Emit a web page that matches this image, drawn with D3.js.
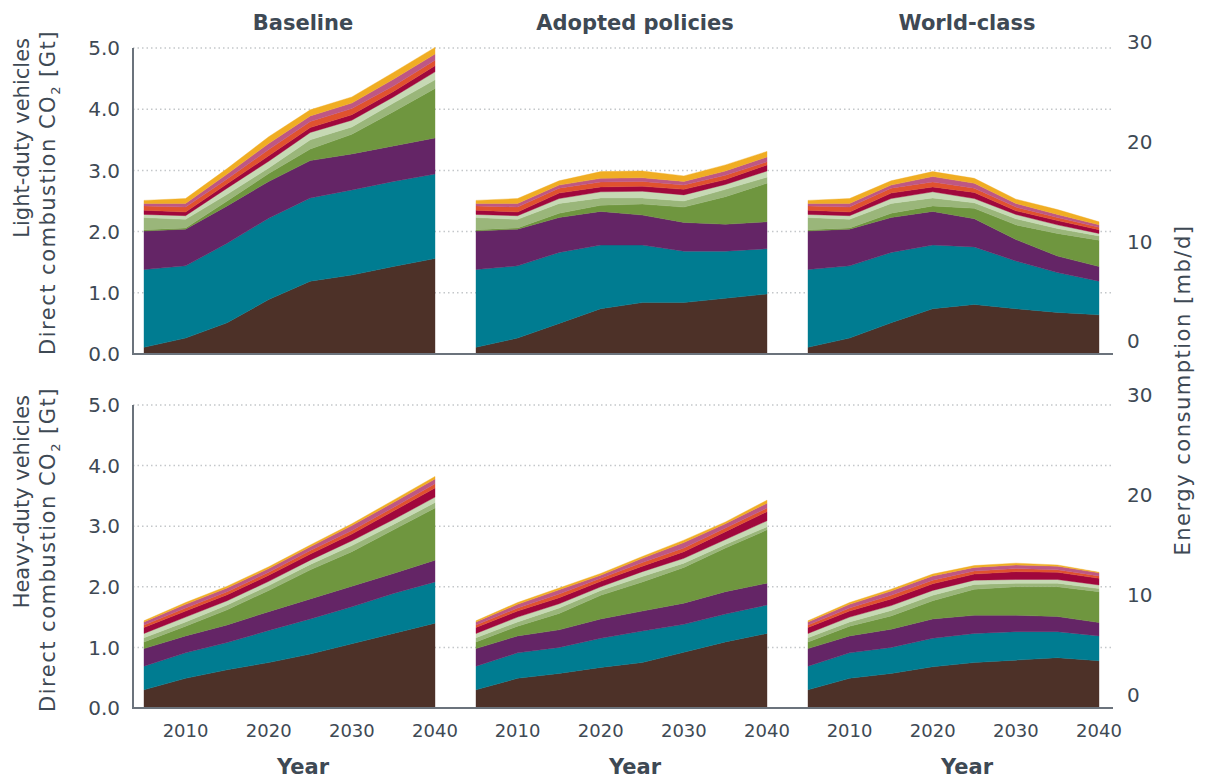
<!DOCTYPE html>
<html>
<head>
<meta charset="utf-8">
<script src="https://cdn.jsdelivr.net/npm/d3@7"></script>
<style>
  body { margin: 0; background: #fff; }
  svg { display: block; font-family: "DejaVu Sans", sans-serif; }
</style>
</head>
<body>
<div id="chart"></div>
<script>
// years and panel names
const years = [2005, 2010, 2015, 2020, 2025, 2030, 2035, 2040];
const scenarios = ["Baseline", "Adopted policies", "World-class"];
const rows = ["Light-duty vehicles", "Heavy-duty vehicles"];
const xTicks = [2010, 2020, 2030, 2040];
const leftTicks = [0, 1, 2, 3, 4, 5];
const rightTicks = [0, 10, 20, 30];
const layerKeys = ["l1", "l2", "l3", "l4", "l5", "l6", "l7", "l8", "l9", "l10"];

// stacked layers, bottom to top, Gt CO2
const ldvBaseline = [
  [0.11, 0.26, 0.51, 0.89, 1.19, 1.29, 1.43, 1.56],
  [1.27, 1.18, 1.30, 1.33, 1.36, 1.39, 1.39, 1.38],
  [0.63, 0.60, 0.61, 0.60, 0.61, 0.59, 0.58, 0.59],
  [0.02, 0.02, 0.08, 0.13, 0.19, 0.32, 0.56, 0.81],
  [0.20, 0.14, 0.11, 0.09, 0.15, 0.12, 0.14, 0.14],
  [0.05, 0.06, 0.10, 0.11, 0.12, 0.11, 0.10, 0.13],
  [0.07, 0.06, 0.07, 0.09, 0.08, 0.09, 0.09, 0.10],
  [0.07, 0.08, 0.08, 0.10, 0.10, 0.10, 0.09, 0.09],
  [0.04, 0.06, 0.08, 0.10, 0.09, 0.09, 0.11, 0.10],
  [0.05, 0.08, 0.09, 0.11, 0.10, 0.10, 0.11, 0.11]
];
const ldvAdopted = [
  [0.11, 0.26, 0.50, 0.74, 0.84, 0.84, 0.91, 0.98],
  [1.27, 1.18, 1.16, 1.04, 0.94, 0.84, 0.77, 0.74],
  [0.63, 0.60, 0.57, 0.55, 0.49, 0.47, 0.44, 0.44],
  [0.02, 0.02, 0.07, 0.10, 0.18, 0.25, 0.45, 0.63],
  [0.20, 0.14, 0.16, 0.12, 0.10, 0.10, 0.12, 0.10],
  [0.05, 0.06, 0.08, 0.10, 0.11, 0.10, 0.08, 0.10],
  [0.07, 0.06, 0.09, 0.08, 0.08, 0.09, 0.08, 0.10],
  [0.07, 0.08, 0.08, 0.08, 0.08, 0.07, 0.07, 0.05],
  [0.04, 0.06, 0.05, 0.06, 0.06, 0.06, 0.07, 0.08],
  [0.05, 0.08, 0.07, 0.11, 0.11, 0.09, 0.10, 0.09]
];
const ldvWorld = [
  [0.11, 0.26, 0.51, 0.74, 0.81, 0.74, 0.68, 0.64],
  [1.27, 1.18, 1.15, 1.04, 0.94, 0.78, 0.65, 0.55],
  [0.63, 0.60, 0.57, 0.55, 0.46, 0.35, 0.27, 0.24],
  [0.02, 0.02, 0.07, 0.09, 0.17, 0.24, 0.37, 0.43],
  [0.20, 0.14, 0.16, 0.13, 0.09, 0.10, 0.08, 0.07],
  [0.05, 0.06, 0.08, 0.10, 0.07, 0.07, 0.06, 0.04],
  [0.07, 0.06, 0.09, 0.08, 0.10, 0.06, 0.07, 0.06],
  [0.07, 0.08, 0.08, 0.08, 0.07, 0.06, 0.05, 0.04],
  [0.04, 0.06, 0.05, 0.09, 0.08, 0.06, 0.05, 0.04],
  [0.05, 0.08, 0.07, 0.08, 0.08, 0.07, 0.08, 0.05]
];
const hdvBaseline = [
  [0.30, 0.49, 0.63, 0.75, 0.89, 1.06, 1.23, 1.40],
  [0.39, 0.42, 0.45, 0.53, 0.58, 0.61, 0.66, 0.68],
  [0.29, 0.28, 0.29, 0.31, 0.33, 0.34, 0.33, 0.36],
  [0.11, 0.16, 0.25, 0.35, 0.48, 0.57, 0.72, 0.86],
  [0.07, 0.07, 0.08, 0.08, 0.09, 0.10, 0.09, 0.09],
  [0.07, 0.08, 0.07, 0.07, 0.07, 0.08, 0.08, 0.09],
  [0.10, 0.10, 0.10, 0.10, 0.10, 0.11, 0.14, 0.15],
  [0.04, 0.05, 0.05, 0.05, 0.06, 0.06, 0.06, 0.07],
  [0.05, 0.06, 0.06, 0.06, 0.06, 0.08, 0.08, 0.08],
  [0.02, 0.03, 0.03, 0.03, 0.03, 0.03, 0.04, 0.04]
];
const hdvAdopted = [
  [0.30, 0.49, 0.57, 0.67, 0.75, 0.92, 1.09, 1.23],
  [0.39, 0.42, 0.43, 0.48, 0.52, 0.46, 0.46, 0.47],
  [0.29, 0.28, 0.29, 0.32, 0.33, 0.35, 0.37, 0.36],
  [0.11, 0.16, 0.27, 0.39, 0.48, 0.59, 0.72, 0.88],
  [0.07, 0.07, 0.09, 0.08, 0.09, 0.07, 0.06, 0.05],
  [0.07, 0.08, 0.07, 0.06, 0.08, 0.08, 0.08, 0.10],
  [0.10, 0.10, 0.10, 0.09, 0.09, 0.11, 0.13, 0.15],
  [0.04, 0.05, 0.06, 0.05, 0.06, 0.06, 0.06, 0.06],
  [0.05, 0.06, 0.07, 0.05, 0.07, 0.09, 0.07, 0.08],
  [0.02, 0.03, 0.03, 0.03, 0.03, 0.04, 0.03, 0.05]
];
const hdvWorld = [
  [0.30, 0.49, 0.57, 0.68, 0.75, 0.79, 0.83, 0.78],
  [0.39, 0.42, 0.43, 0.47, 0.48, 0.47, 0.43, 0.41],
  [0.29, 0.28, 0.30, 0.32, 0.30, 0.27, 0.25, 0.22],
  [0.11, 0.16, 0.22, 0.30, 0.43, 0.47, 0.49, 0.51],
  [0.07, 0.07, 0.09, 0.09, 0.08, 0.06, 0.06, 0.05],
  [0.07, 0.08, 0.08, 0.08, 0.07, 0.06, 0.06, 0.06],
  [0.10, 0.10, 0.11, 0.11, 0.10, 0.13, 0.12, 0.11],
  [0.04, 0.05, 0.06, 0.06, 0.05, 0.05, 0.04, 0.04],
  [0.05, 0.06, 0.07, 0.07, 0.06, 0.06, 0.06, 0.05],
  [0.02, 0.03, 0.03, 0.03, 0.03, 0.03, 0.02, 0.01]
];

const panelData = [
  [ldvBaseline, ldvAdopted, ldvWorld],
  [hdvBaseline, hdvAdopted, hdvWorld]
];

const colors = ["#4d3128", "#007c91", "#642566", "#6f963f", "#9ab67a",
                "#c6d9b4", "#a0073c", "#e0522e", "#be5784", "#f0ad23"];
const textColor = "#3e4954";
const axisColor = "#6b737c";

const width = 1206, height = 780;
const panelLeft0 = 144, panelStep = 332, panelWidth = 291;
const axisX = 133, axisEnd = 1113;
const rowRange = [[354, 48], [708, 405]];
const rightRange = [[341, 42], [695, 395]];

let svg = d3.select("#chart").append("svg")
  .attr("width", width)
  .attr("height", height);

let color = d3.scaleOrdinal().domain(layerKeys).range(colors);
let stack = d3.stack().keys(layerKeys);

rows.forEach(function (rowName, r) {
  let y = d3.scaleLinear().domain([0, 5]).range(rowRange[r]);
  let yR = d3.scaleLinear().domain([0, 30]).range(rightRange[r]);
  let g = svg.append("g");

  // dotted gridlines
  g.append("g").selectAll("line")
    .data(leftTicks.filter(t => t > 0))
    .enter().append("line")
    .attr("x1", axisX).attr("x2", axisEnd)
    .attr("y1", d => y(d)).attr("y2", d => y(d))
    .attr("stroke", "#c4c7ca")
    .attr("stroke-width", 1.5)
    .attr("stroke-dasharray", "1.5,3");

  // stacked areas per scenario
  scenarios.forEach(function (name, i) {
    let x0 = panelLeft0 + i * panelStep;
    let x = d3.scaleLinear().domain([2005, 2040]).range([x0, x0 + panelWidth]);
    let series = panelData[r][i];
    let table = years.map(function (yr, j) {
      let row = { year: yr };
      layerKeys.forEach((k, li) => { row[k] = series[li][j]; });
      return row;
    });
    let area = d3.area()
      .x(d => x(d.data.year))
      .y0(d => y(d[0]))
      .y1(d => y(d[1]));

    g.append("g").selectAll("path")
      .data(stack(table))
      .enter().append("path")
      .attr("d", area)
      .attr("fill", d => color(d.key))
      .attr("stroke", d => color(d.key))
      .attr("stroke-width", 0.4);

    if (r === 1) {
      // year labels
      g.append("g").selectAll("text")
        .data(xTicks)
        .enter().append("text")
        .attr("x", d => x(d))
        .attr("y", 737)
        .attr("text-anchor", "middle")
        .attr("fill", textColor)
        .style("font-size", "18px")
        .text(d => d);
      g.append("text")
        .attr("x", x0 + 159)
        .attr("y", 774)
        .attr("text-anchor", "middle")
        .attr("fill", textColor)
        .style("font-size", "21px")
        .style("font-weight", "bold")
        .text("Year");
    } else {
      g.append("text")
        .attr("x", x0 + 159)
        .attr("y", 30)
        .attr("text-anchor", "middle")
        .attr("fill", textColor)
        .style("font-size", "21px")
        .style("font-weight", "bold")
        .text(name);
    }
  });

  // axis lines
  g.append("line")
    .attr("x1", axisX).attr("x2", axisX)
    .attr("y1", y(5)).attr("y2", y(0))
    .attr("stroke", axisColor).attr("stroke-width", 2);
  g.append("line")
    .attr("x1", axisX - 1).attr("x2", axisEnd)
    .attr("y1", y(0)).attr("y2", y(0))
    .attr("stroke", axisColor).attr("stroke-width", 2);

  // left tick labels
  g.append("g").selectAll("text")
    .data(leftTicks)
    .enter().append("text")
    .attr("x", 120)
    .attr("y", d => y(d))
    .attr("dy", "0.36em")
    .attr("text-anchor", "end")
    .attr("fill", textColor)
    .style("font-size", "20px")
    .text(d => d3.format(".1f")(d));

  // right tick labels
  g.append("g").selectAll("text")
    .data(rightTicks)
    .enter().append("text")
    .attr("x", 1127)
    .attr("y", d => yR(d))
    .attr("dy", "0.36em")
    .attr("fill", textColor)
    .style("font-size", "20px")
    .text(d => d);

  // left axis title, lines aligned at the top of the panel
  let top = rowRange[r][1] - 18;
  g.append("text")
    .attr("transform", `translate(29, ${top + 8}) rotate(-90)`)
    .attr("text-anchor", "end")
    .attr("fill", textColor)
    .style("font-size", "21px")
    .text(rowName);
  let t2 = g.append("text")
    .attr("transform", `translate(55, ${top}) rotate(-90)`)
    .attr("text-anchor", "end")
    .attr("fill", textColor)
    .style("font-size", "21px")
    .style("letter-spacing", "1.5px");
  t2.append("tspan").text("Direct combustion CO");
  t2.append("tspan").attr("dy", 5).style("font-size", "13px").text("2");
  t2.append("tspan").attr("dy", -5).text(" [Gt]");
});

// right axis title
svg.append("text")
  .attr("transform", "translate(1190, 390) rotate(-90)")
  .attr("text-anchor", "middle")
  .attr("fill", textColor)
  .style("font-size", "21px")
  .style("letter-spacing", "1.5px")
  .text("Energy consumption [mb/d]");
</script>
</body>
</html>
